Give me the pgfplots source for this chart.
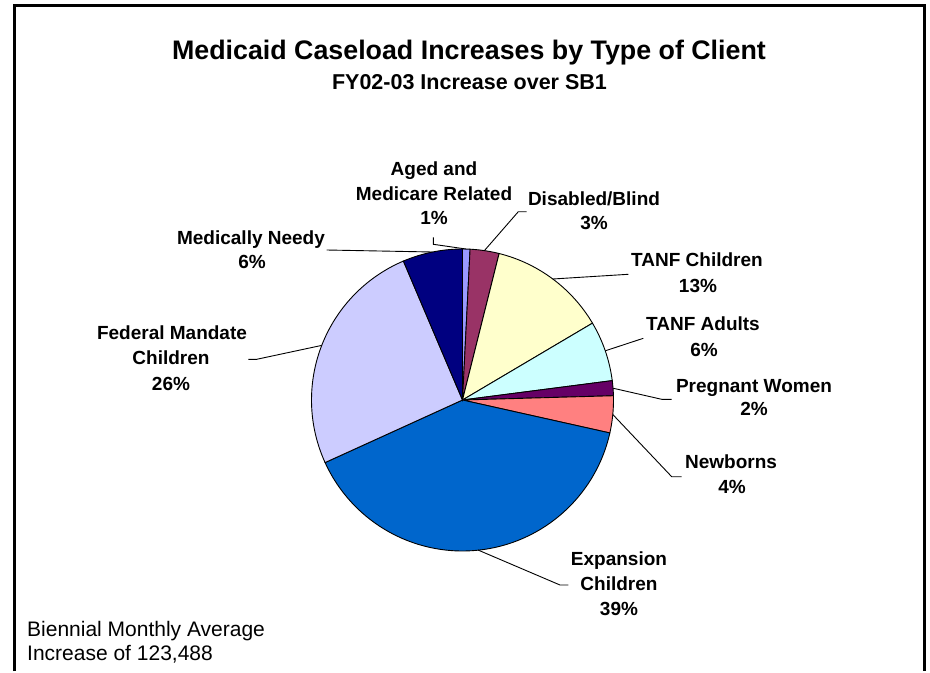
\documentclass[border=0pt]{standalone}
\usepackage{fontspec}
\setmainfont{Liberation Sans}
\usepackage{pgfplots}
\pgfplotsset{compat=1.18}
\definecolor{cAged}{HTML}{9999FF}
\definecolor{cDis}{HTML}{993366}
\definecolor{cTC}{HTML}{FFFFCC}
\definecolor{cTA}{HTML}{CCFFFF}
\definecolor{cPreg}{HTML}{660066}
\definecolor{cNew}{HTML}{FF8080}
\definecolor{cExp}{HTML}{0066CC}
\definecolor{cFed}{HTML}{CCCCFF}
\definecolor{cMed}{HTML}{000080}
\newcommand{\lab}{\fontsize{19}{22}\selectfont\bfseries}
\begin{document}
\begin{tikzpicture}
\begin{axis}[width=930pt, height=671pt, scale only axis,
  xmin=0, xmax=930, ymin=0, ymax=671, y dir=reverse,
  hide axis, clip=false]
% page extent
\path (axis cs:0,0) rectangle (axis cs:930,671);
% frame
\draw[line width=3pt] (axis cs:14.5,671) -- (axis cs:14.5,5) -- (axis cs:924.5,5) -- (axis cs:924.5,671);
% pie slices (cumulative percentages, clockwise from top)
\addplot[draw=black, line width=0.9pt, fill=cAged, domain=0:0.8, samples=10, variable=\t] ({462.5+151*sin(3.6*\t)},{400-151*cos(3.6*\t)}) -- (axis cs:462.5,400) -- cycle;
\addplot[draw=black, line width=0.9pt, fill=cDis, domain=0.8:3.9, samples=15, variable=\t] ({462.5+151*sin(3.6*\t)},{400-151*cos(3.6*\t)}) -- (axis cs:462.5,400) -- cycle;
\addplot[draw=black, line width=0.9pt, fill=cTC, domain=3.9:16.5, samples=40, variable=\t] ({462.5+151*sin(3.6*\t)},{400-151*cos(3.6*\t)}) -- (axis cs:462.5,400) -- cycle;
\addplot[draw=black, line width=0.9pt, fill=cTA, domain=16.5:22.95, samples=25, variable=\t] ({462.5+151*sin(3.6*\t)},{400-151*cos(3.6*\t)}) -- (axis cs:462.5,400) -- cycle;
\addplot[draw=black, line width=0.9pt, fill=cPreg, domain=22.95:24.55, samples=10, variable=\t] ({462.5+151*sin(3.6*\t)},{400-151*cos(3.6*\t)}) -- (axis cs:462.5,400) -- cycle;
\addplot[draw=black, line width=0.9pt, fill=cNew, domain=24.55:28.5, samples=15, variable=\t] ({462.5+151*sin(3.6*\t)},{400-151*cos(3.6*\t)}) -- (axis cs:462.5,400) -- cycle;
\addplot[draw=black, line width=0.9pt, fill=cExp, domain=28.5:68.2, samples=90, variable=\t] ({462.5+151*sin(3.6*\t)},{400-151*cos(3.6*\t)}) -- (axis cs:462.5,400) -- cycle;
\addplot[draw=black, line width=0.9pt, fill=cFed, domain=68.2:93.6, samples=60, variable=\t] ({462.5+151*sin(3.6*\t)},{400-151*cos(3.6*\t)}) -- (axis cs:462.5,400) -- cycle;
\addplot[draw=black, line width=0.9pt, fill=cMed, domain=93.6:100, samples=20, variable=\t] ({462.5+151*sin(3.6*\t)},{400-151*cos(3.6*\t)}) -- (axis cs:462.5,400) -- cycle;
% leader lines
\addplot[black, line width=0.9pt] coordinates {(433.3,237.3) (433.3,244.3) (466,249)};
\addplot[black, line width=0.9pt] coordinates {(526.7,211.7) (518.3,211.7) (484.5,250.5)};
\addplot[black, line width=0.9pt] coordinates {(326.7,250) (432.5,252)};
\addplot[black, line width=0.9pt] coordinates {(628.3,274.3) (552.7,279)};
\addplot[black, line width=0.9pt] coordinates {(643.3,338.3) (605.3,350.8)};
\addplot[black, line width=0.9pt] coordinates {(613,388.2) (661.7,399.3) (671.7,399.3)};
\addplot[black, line width=0.9pt] coordinates {(612.8,414.5) (671.7,476.7) (681.7,476.7)};
\addplot[black, line width=0.9pt] coordinates {(478,550) (560,585) (568.3,585)};
\addplot[black, line width=0.9pt] coordinates {(248.3,359.3) (256.7,359.3) (321.7,345.4)};
% titles
\node[anchor=base, font=\fontsize{26.8}{30}\selectfont\bfseries] at (axis cs:469,59.3) {Medicaid Caseload Increases by Type of Client};
\node[anchor=base, font=\fontsize{21.5}{25}\selectfont\bfseries] at (axis cs:469.5,89.3) {FY02-03 Increase over SB1};
% labels
\node[anchor=base, font=\lab] at (axis cs:434,175) {Aged and};
\node[anchor=base, font=\lab] at (axis cs:434,200) {Medicare Related};
\node[anchor=base, font=\lab] at (axis cs:434,224) {1\%};
\node[anchor=base, font=\lab] at (axis cs:594,205) {Disabled/Blind};
\node[anchor=base, font=\lab] at (axis cs:594,229) {3\%};
\node[anchor=base, font=\lab] at (axis cs:251,244) {Medically Needy};
\node[anchor=base, font=\lab] at (axis cs:252,268) {6\%};
\node[anchor=base, font=\lab] at (axis cs:697,266) {TANF Children};
\node[anchor=base, font=\lab] at (axis cs:698,292) {13\%};
\node[anchor=base, font=\lab] at (axis cs:703,330) {TANF Adults};
\node[anchor=base, font=\lab] at (axis cs:704,356) {6\%};
\node[anchor=base, font=\lab] at (axis cs:754,392) {Pregnant Women};
\node[anchor=base, font=\lab] at (axis cs:754,415) {2\%};
\node[anchor=base, font=\lab] at (axis cs:731,468) {Newborns};
\node[anchor=base, font=\lab] at (axis cs:732,493) {4\%};
\node[anchor=base, font=\lab] at (axis cs:619,565) {Expansion};
\node[anchor=base, font=\lab] at (axis cs:619,590) {Children};
\node[anchor=base, font=\lab] at (axis cs:619,615) {39\%};
\node[anchor=base, font=\lab] at (axis cs:172,339) {Federal Mandate};
\node[anchor=base, font=\lab] at (axis cs:171,364) {Children};
\node[anchor=base, font=\lab] at (axis cs:171,390) {26\%};
% bottom note
\node[anchor=base west, inner sep=0pt, font=\fontsize{21}{24}\selectfont] at (axis cs:27,636) {Biennial Monthly Average};
\node[anchor=base west, inner sep=0pt, font=\fontsize{21}{24}\selectfont] at (axis cs:27,660) {Increase of 123,488};
\end{axis}
\end{tikzpicture}
\end{document}
